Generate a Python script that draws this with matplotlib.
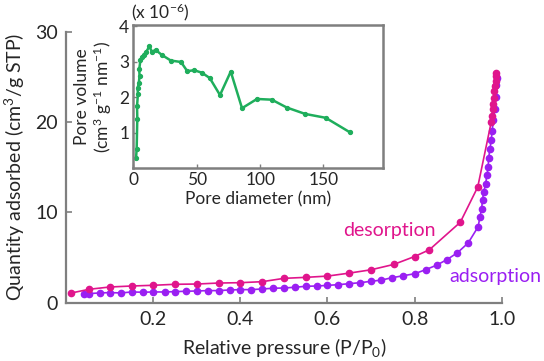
import matplotlib
matplotlib.use("Agg")
import matplotlib.pyplot as plt

plt.rcParams['font.family'] = ['Lato', 'DejaVu Sans']
plt.rcParams['mathtext.fontset'] = 'custom'
plt.rcParams['mathtext.rm'] = 'Lato'
plt.rcParams['mathtext.it'] = 'Lato:italic'

# isotherm data (relative pressure, quantity adsorbed)
ads_p = [0.041, 0.052, 0.077, 0.10, 0.126, 0.15, 0.176, 0.20, 0.226, 0.25,
         0.276, 0.30, 0.325, 0.35, 0.375, 0.40, 0.425, 0.45, 0.475, 0.50,
         0.525, 0.55, 0.575, 0.60, 0.625, 0.65, 0.675, 0.70, 0.724, 0.748,
         0.774, 0.80, 0.826, 0.851, 0.874, 0.898, 0.923, 0.946, 0.950, 0.954,
         0.956, 0.959, 0.963, 0.966, 0.969, 0.970, 0.973, 0.976, 0.978, 0.981,
         0.984, 0.986, 0.988, 0.990]
ads_q = [0.92, 0.99, 1.06, 1.10, 1.06, 1.17, 1.14, 1.17, 1.17, 1.21,
         1.25, 1.28, 1.32, 1.32, 1.39, 1.43, 1.43, 1.50, 1.58, 1.61,
         1.69, 1.80, 1.83, 1.90, 1.98, 2.09, 2.20, 2.35, 2.49, 2.75,
         2.97, 3.19, 3.65, 4.15, 4.75, 5.5, 6.6, 8.4, 9.5, 10.4,
         11.4, 12.3, 13.1, 14.1, 15.0, 16.0, 17.0, 18.0, 19.0, 20.2,
         21.5, 22.8, 24.1, 24.9]

des_p = [0.012, 0.053, 0.10, 0.15, 0.20, 0.25, 0.30, 0.35, 0.40, 0.45,
         0.50, 0.55, 0.60, 0.65, 0.70, 0.752, 0.80, 0.834, 0.905, 0.945,
         0.976, 0.978, 0.979, 0.980, 0.982, 0.983, 0.984, 0.986, 0.987, 0.988]
des_q = [1.06, 1.47, 1.72, 1.83, 1.91, 2.02, 2.05, 2.16, 2.20, 2.31,
         2.68, 2.79, 2.93, 3.26, 3.63, 4.22, 5.1, 5.85, 8.9, 12.8,
         20.0, 20.7, 21.4, 22.0, 22.7, 23.4, 24.0, 24.6, 25.1, 25.5]

# pore size distribution (inset)
pore_d = [2.0, 2.5, 3.0, 2.8, 3.5, 3.2, 4.2, 4.8, 4.5, 5.5,
          6.5, 8.0, 10.0, 12.5, 14.5, 17.5, 22.3, 29.5, 37.5, 42.5,
          47.8, 53.9, 60.2, 68.3, 76.8, 85.7, 97.5, 109.2, 121, 135.5,
          151.8, 171]
pore_v = [0.28, 0.55, 1.40, 1.75, 2.10, 2.25, 2.40, 2.60, 2.78, 3.05,
          3.12, 3.20, 3.27, 3.43, 3.28, 3.33, 3.19, 3.03, 2.99, 2.73,
          2.76, 2.69, 2.54, 2.06, 2.72, 1.69, 1.95, 1.93, 1.71, 1.53,
          1.42, 1.01]

x_ticks = [0.2, 0.4, 0.6, 0.8, 1.0]
y_ticks = [0, 10, 20, 30]

pink = '#e0158c'
purple = '#9a1ff2'
green = '#1fae5c'
grey = '#7f7f7f'
txt = '#262626'

fig = plt.figure(figsize=(5.44, 3.61), dpi=100)
ax = fig.add_axes([0.1217, 0.162, 0.8005, 0.7496])

ax.plot(des_p, des_q, color=pink, lw=1.2, marker='o', ms=4.5, zorder=3)
ax.plot(ads_p, ads_q, color=purple, lw=1.2, marker='o', ms=4.5, zorder=2)

ax.set_xlim(0, 1.0)
ax.set_ylim(0, 30)
ax.set_xticks(x_ticks)
ax.set_xticklabels([f'{t:.1f}' for t in x_ticks])
ax.set_yticks(y_ticks)
for s in ['top', 'right']:
    ax.spines[s].set_visible(False)
for s in ['left', 'bottom']:
    ax.spines[s].set_color(grey)
    ax.spines[s].set_linewidth(1.6)
ax.tick_params(direction='in', length=4, width=1.2, color=grey,
               labelsize=14, labelcolor=txt, pad=6)
ax.set_xlabel('Relative pressure (P/P$_0$)', fontsize=14, color=txt, labelpad=6)
ax.set_ylabel('Quantity adsorbed (cm$^3$/g STP)', fontsize=14, color=txt, labelpad=6)

ax.text(0.742, 8.0, 'desorption', color=pink, fontsize=14, ha='center', va='center')
ax.text(0.985, 2.9, 'adsorption', color=purple, fontsize=14, ha='center', va='center')

# inset
ins = fig.add_axes([0.2454, 0.5338, 0.4581, 0.3969])
ins.plot(pore_d, pore_v, color=green, lw=1.8, marker='o', ms=2.8)
ins.set_xlim(0, 196.8)
ins.set_ylim(0, 4.03)
ins.set_xticks([0, 50, 100, 150])
ins.set_yticks([1, 2, 3, 4])
for s in ins.spines.values():
    s.set_color(grey)
    s.set_linewidth(1.8)
ins.tick_params(direction='in', length=3, width=1, color=grey,
                labelsize=12.5, labelcolor=txt, pad=3)
ins.set_xlabel('Pore diameter (nm)', fontsize=12.5, color=txt, labelpad=2)
ins.set_ylabel('Pore volume\n(cm$^3$ g$^{-1}$ nm$^{-1}$)', fontsize=12.5,
               color=txt, labelpad=4, linespacing=1.1)
fig.text(131 / 544, 1 - 12 / 361, '(x 10$^{-6}$)', fontsize=12.5, color=txt,
         ha='left', va='center')

fig.savefig('out.png', dpi=100)
